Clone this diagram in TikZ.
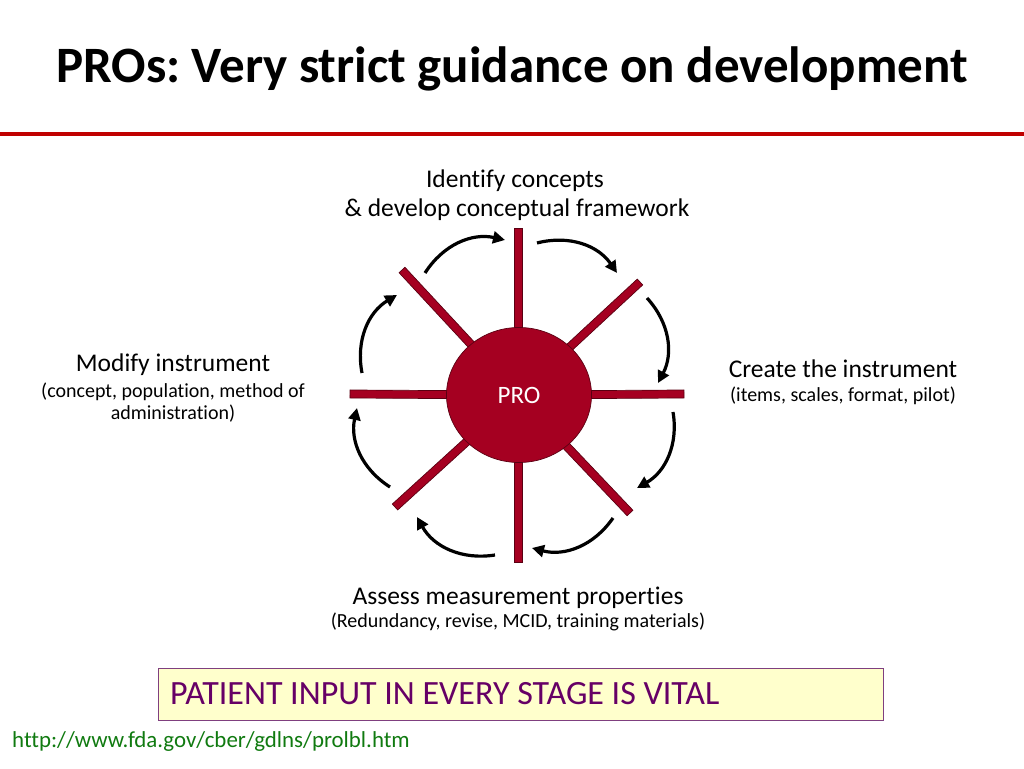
\documentclass[tikz,border=0pt]{standalone}
\usepackage{fontspec}
\setmainfont{Carlito}[Ligatures=NoCommon]
\usetikzlibrary{calc,arrows.meta,shapes.geometric}
\definecolor{prored}{HTML}{A50021}
\definecolor{prodark}{HTML}{5A0012}
\definecolor{rulered}{HTML}{C00000}
\definecolor{boxfill}{HTML}{FFFFCC}
\definecolor{boxline}{HTML}{7F3F7F}
\definecolor{boxtext}{HTML}{660066}
\definecolor{urlgreen}{HTML}{107A10}
\frenchspacing
\begin{document}
\begin{tikzpicture}[x=1pt,y=1pt,
  spoke/.style={fill=prored,draw=prodark,line width=0.7pt},
  cyc/.style={-{Triangle[length=12pt,width=12pt]},line width=3.2pt,bend left=35},
  lbl/.style={anchor=base,inner sep=0pt,font=\fontsize{25.5}{30}\selectfont},
  sub/.style={anchor=base,inner sep=0pt,font=\fontsize{20}{24}\selectfont}]
\useasboundingbox (0,0) rectangle (1024,768);
% title and rule
\node[anchor=base,inner sep=0pt,font=\fontsize{51}{60}\selectfont\bfseries] (title) at (512,685) {PROs: Very strict guidance on development};
\coordinate (rl) at (0,634);
\coordinate (rr) at (1024,634);
\draw[rulered,line width=3.5pt] (rl) -- (rr);
% spokes
\coordinate (c) at (518,373);
\coordinate (s1) at (518,540);
\coordinate (s2) at (640,486);
\coordinate (s3) at (684,374);
\coordinate (s4) at (630,255);
\coordinate (s5) at (518,206);
\coordinate (s6) at (395,261);
\coordinate (s7) at (350,374);
\coordinate (s8) at (402,498);
\foreach \e in {s1,s2,s3,s4,s5,s6,s7,s8}
  \draw[spoke] ($(c)!4pt!90:(\e)$) -- ($(\e)!4pt!-90:(c)$) -- ($(\e)!4pt!90:(c)$) -- ($(c)!4pt!-90:(\e)$) -- cycle;
\node[ellipse,draw=prodark,fill=prored,line width=0.7pt,minimum width=145pt,minimum height=135pt,inner sep=0pt,text=white,font=\fontsize{25}{30}\selectfont] (pro) at (519,373) {PRO};
% cycle arrows
\coordinate (a1s) at (425,495); \coordinate (a1e) at (505,528);
\coordinate (a2s) at (537,525); \coordinate (a2e) at (617,495);
\coordinate (a3s) at (647,470); \coordinate (a3e) at (658,385);
\coordinate (a4s) at (673,356); \coordinate (a4e) at (637,280);
\coordinate (a5s) at (613,250); \coordinate (a5e) at (532,220);
\coordinate (a6s) at (495,213); \coordinate (a6e) at (417,251);
\coordinate (a7s) at (390,281); \coordinate (a7e) at (357,360);
\coordinate (a8s) at (362,395); \coordinate (a8e) at (397,473);
\foreach \i in {1,...,8}
  \draw[cyc] (a\i s) to (a\i e);
% labels
\node[lbl] (id1) at (515,580) {Identify concepts};
\node[lbl] (id2) at (517,551) {\& develop conceptual framework};
\node[lbl] (mo1) at (173,396) {Modify instrument};
\node[sub] (mo2) at (173,370) {(concept, population, method of};
\node[sub] (mo3) at (173,348) {administration)};
\node[lbl] (cr1) at (843,390) {Create the instrument};
\node[sub] (cr2) at (843,366) {(items, scales, format, pilot)};
\node[lbl] (as1) at (518,163) {Assess measurement properties};
\node[sub] (as2) at (518,140) {(Redundancy, revise, MCID, training materials)};
% bottom box
\node[draw=boxline,fill=boxfill,line width=1pt,minimum width=725pt,minimum height=52pt,inner sep=0pt] (box) at (520.5,74) {};
\node[anchor=base west,inner sep=0pt,text=boxtext,font=\fontsize{34}{38}\selectfont] (boxtxt) at (170,64) {PATIENT INPUT IN EVERY STAGE IS VITAL};
\node[anchor=base west,inner sep=0pt,text=urlgreen,font=\fontsize{22.9}{27}\selectfont] (url) at (12,21) {http://www.fda.gov/cber/gdlns/prolbl.htm};
\end{tikzpicture}
\end{document}
